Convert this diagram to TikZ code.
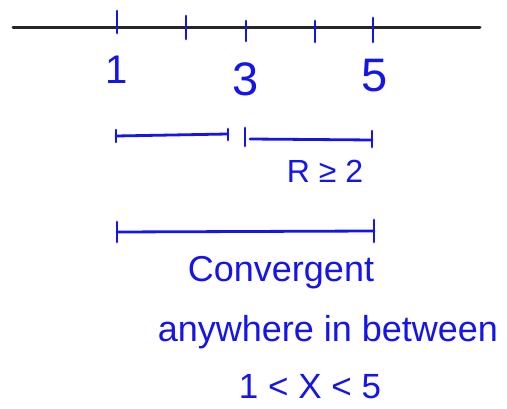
\documentclass[tikz,border=0pt]{standalone}
\usepackage{fontspec}
\setmainfont{Liberation Sans}
\definecolor{ink}{RGB}{20,20,235}
\tikzset{
  axis/.style={draw=black!85, line width=3pt, line cap=round},
  pen/.style={draw=ink, line width=2.8pt, line cap=round, line join=round},
  lbl/.style={text=ink, inner sep=0pt, anchor=base},
}
\begin{document}
\begin{tikzpicture}[x=1pt,y=-1pt]
\useasboundingbox (0,0) rectangle (507,409);
% number line
\coordinate (L) at (13,28);
\coordinate (R) at (480,28);
\draw[axis] (L) -- (R);
% ticks
\coordinate (t1a) at (117,11); \coordinate (t1b) at (117,33);
\coordinate (t2a) at (186,16); \coordinate (t2b) at (186,39);
\coordinate (t3a) at (246,21); \coordinate (t3b) at (246,41);
\coordinate (t4a) at (315,21); \coordinate (t4b) at (315,42);
\coordinate (t5a) at (373,18); \coordinate (t5b) at (373,42);
\foreach \i in {1,...,5} \draw[pen] (t\i a) -- (t\i b);
% labels
\node[lbl, font=\fontsize{40}{40}\selectfont] (n1) at (117,84) {1};
\node[lbl, font=\fontsize{47}{47}\selectfont] (n3) at (246,96) {3};
\node[lbl, font=\fontsize{47}{47}\selectfont] (n5) at (375,92) {5};
% interval 1..3
\coordinate (a1) at (116,136); \coordinate (a2) at (228,134);
\draw[pen] (a1) -- (a2);
\draw[pen] (116,130) -- (116,142);
\draw[pen] (228,129) -- (228,140);
% interval 3..5
\coordinate (b1) at (250,139); \coordinate (b2) at (372,140);
\draw[pen] (b1) -- (b2);
\draw[pen] (245,128) -- (245,146);
\draw[pen] (372,131) -- (372,147);
\node[lbl, font=\fontsize{32}{32}\selectfont] (rad) at (325,183) {R ≥ 2};
% interval 1..5
\coordinate (c1) at (117,232); \coordinate (c2) at (374,231);
\draw[pen] (c1) -- (c2);
\draw[pen] (117,222) -- (117,242);
\draw[pen] (374,220) -- (374,242);
\node[lbl, font=\fontsize{36}{36}\selectfont] (conv) at (281,282) {Convergent};
\node[lbl, font=\fontsize{36}{36}\selectfont] (any) at (328,342) {anywhere in between};
\node[lbl, font=\fontsize{35}{35}\selectfont] (ineq) at (310,399) {1 < X < 5};
\end{tikzpicture}
\end{document}
